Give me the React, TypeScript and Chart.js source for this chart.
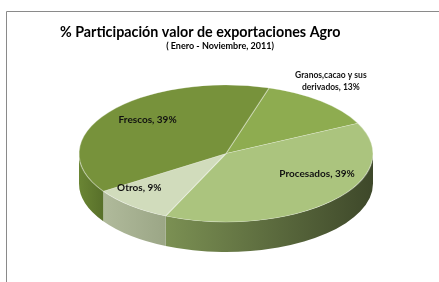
import React, { useEffect, useRef } from "react";
import { Chart, registerables } from "chart.js";

Chart.register(...registerables);

// ---- data ----
const categories = ["Granos,cacao y sus derivados", "Procesados", "Otros", "Frescos"];
const shares = [13, 39, 9, 39];
const titleText = "% Participación valor de exportaciones Agro";
const subtitleText = "( Enero - Noviembre, 2011)";

// ---- style ----
const topColors = ["#8eac50", "#abc47e", "#d1dcbc", "#77923b"];
const sideColors: [string, string][] = [
  ["#6f8a3a", "#5a7030"],
  ["#7b9053", "#3e482a"],
  ["#b0ba9b", "#9ba686"],
  ["#6a8534", "#58702a"],
];
const labelRadius = [1.3, 0.7, 0.9, 0.7];
const labelNudge: [number, number][] = [
  [-19, -4],
  [17, -13],
  [-1, -13],
  [4, -5],
];
const labelSize = [8.5, 10, 10, 10];
const labelWrap = [80, 200, 200, 200];

const CX = 226;
const CY = 153.5;
const RX = 147;
const RY = 68.5;
const DEPTH = 30;
const FONT = "Lato";

function wrap(ctx: CanvasRenderingContext2D, text: string, maxW: number): string[] {
  const words = text.split(" ");
  const lines: string[] = [];
  let cur = "";
  for (const w of words) {
    const t = cur ? cur + " " + w : w;
    if (cur && ctx.measureText(t).width > maxW) {
      lines.push(cur);
      cur = w;
    } else cur = t;
  }
  if (cur) lines.push(cur);
  return lines;
}

const pie3d = {
  id: "pie3d",
  beforeDraw(chart: any) {
    const ctx = chart.ctx as CanvasRenderingContext2D;
    ctx.save();
    ctx.fillStyle = "#ffffff";
    ctx.fillRect(0, 0, chart.width, chart.height);
    ctx.strokeStyle = "#8a8a8a";
    ctx.lineWidth = 1;
    ctx.beginPath();
    ctx.moveTo(6.5, chart.height);
    ctx.lineTo(6.5, 11.5);
    ctx.lineTo(chart.width, 11.5);
    ctx.stroke();
    ctx.restore();
  },
  beforeDatasetsDraw(chart: any) {
    const ctx = chart.ctx as CanvasRenderingContext2D;
    const arcs = chart.getDatasetMeta(0).data;
    arcs.forEach((arc: any, i: number) => {
      const { startAngle, endAngle } = arc.getProps(["startAngle", "endAngle"], true);
      for (let k = -2; k <= 2; k++) {
        const lo = Math.max(startAngle, 2 * Math.PI * k);
        const hi = Math.min(endAngle, 2 * Math.PI * k + Math.PI);
        if (hi <= lo) continue;
        const xl = CX + RX * Math.cos(hi);
        const xr = CX + RX * Math.cos(lo);
        const g = ctx.createLinearGradient(xl, 0, Math.max(xr, xl + 1), 0);
        g.addColorStop(0, sideColors[i][0]);
        g.addColorStop(1, sideColors[i][1]);
        ctx.save();
        ctx.fillStyle = g;
        ctx.beginPath();
        ctx.ellipse(CX, CY, RX, RY, 0, lo, hi);
        ctx.ellipse(CX, CY + DEPTH, RX, RY, 0, hi, lo, true);
        ctx.closePath();
        ctx.fill();
        ctx.restore();
      }
    });
    const { x, y, outerRadius } = arcs[0].getProps(["x", "y", "outerRadius"], true);
    ctx.save();
    ctx.translate(CX, CY);
    ctx.scale(RX / outerRadius, RY / outerRadius);
    ctx.translate(-x, -y);
  },
  afterDatasetsDraw(chart: any) {
    const ctx = chart.ctx as CanvasRenderingContext2D;
    ctx.restore();
    const arcs = chart.getDatasetMeta(0).data;
    ctx.save();
    ctx.fillStyle = "#111111";
    ctx.textAlign = "center";
    ctx.textBaseline = "middle";
    arcs.forEach((arc: any, i: number) => {
      const { startAngle, endAngle } = arc.getProps(["startAngle", "endAngle"], true);
      const mid = (startAngle + endAngle) / 2;
      const f = labelRadius[i];
      const px = CX + RX * f * Math.cos(mid) + labelNudge[i][0];
      const py = CY + RY * f * Math.sin(mid) + labelNudge[i][1];
      ctx.font = `bold ${labelSize[i]}px ${FONT}`;
      const text = `${chart.data.labels[i]}, ${chart.data.datasets[0].data[i]}%`;
      const lines = wrap(ctx, text, labelWrap[i]);
      const lh = labelSize[i] * 1.4;
      lines.forEach((ln, j) => {
        ctx.fillText(ln, px, py + (j - (lines.length - 1) / 2) * lh);
      });
    });
    ctx.restore();
  },
};

export default function App() {
  const ref = useRef<HTMLCanvasElement>(null);
  useEffect(() => {
    if (!ref.current) return;
    const chart = new Chart(ref.current, {
      type: "pie",
      data: {
        labels: categories,
        datasets: [
          {
            data: shares,
            backgroundColor: topColors,
            borderColor: "rgba(255,255,255,0.35)",
            borderWidth: 1,
            clip: false as any,
          },
        ],
      },
      options: {
        animation: false,
        responsive: false,
        rotation: 17,
        events: [],
        layout: { padding: { left: 60, right: 59, top: 0, bottom: 10 } },
        plugins: {
          legend: { display: false },
          tooltip: { enabled: false },
          title: {
            display: true,
            text: titleText,
            align: "start",
            color: "#000000",
            font: { family: FONT, size: 14.3, weight: "bold" },
            padding: { top: 23.4, bottom: 0 },
          },
          subtitle: {
            display: true,
            text: subtitleText,
            color: "#000000",
            font: { family: FONT, size: 9, weight: "bold" },
            padding: { top: 0, bottom: 10 },
          },
        },
      },
      plugins: [pie3d],
    });
    return () => chart.destroy();
  }, []);
  return (
    <div style={{ position: "absolute", left: 0, top: 0, width: 439, height: 282, background: "#fff" }}>
      <canvas ref={ref} width={439} height={282} style={{ display: "block" }} />
    </div>
  );
}
